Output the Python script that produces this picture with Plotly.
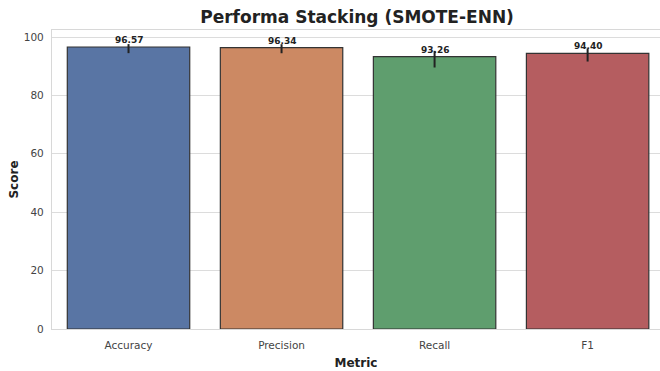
import plotly.graph_objects as go

metrics = ["Accuracy", "Precision", "Recall", "F1"]
scores = [96.57, 96.34, 93.26, 94.40]
err_up = [1.0, 1.2, 2.0, 1.7]
err_down = [2.1, 1.9, 3.7, 2.8]
bar_colors = ["#5975a4", "#cc8963", "#5f9e6e", "#b55d60"]
y_ticks = [0, 20, 40, 60, 80, 100]

fig = go.Figure()
fig.add_trace(go.Bar(
    x=list(range(len(metrics))),
    y=scores,
    width=0.8,
    marker=dict(color=bar_colors, line=dict(color="#333333", width=1.2)),
    error_y=dict(type="data", symmetric=False, array=err_up, arrayminus=err_down,
                 color="#222222", thickness=2, width=0),
    showlegend=False,
))
for i, v in enumerate(scores):
    fig.add_annotation(x=i, y=v, text=f"<b>{v:.2f}</b>", showarrow=False,
                       yshift=7, font=dict(family="DejaVu Sans", size=9, color="#222222"))

fig.update_layout(
    width=660, height=371,
    margin=dict(l=52, r=0, t=30, b=42),
    paper_bgcolor="white", plot_bgcolor="white",
    title=dict(text="<b>Performa Stacking (SMOTE-ENN)</b>", x=0.541, xanchor="center",
               y=0.953, yanchor="middle",
               font=dict(family="DejaVu Sans", size=17, color="#222222")),
    font=dict(family="DejaVu Sans", color="#444444"),
    bargap=0.2,
)
fig.update_xaxes(
    range=[-0.5, 3.473],
    tickvals=list(range(len(metrics))), ticktext=metrics,
    tickfont=dict(size=10.5, color="#444444"),
    ticklabelstandoff=6,
    title=dict(text="<b>Metric</b>", font=dict(size=12, color="#222222"), standoff=8),
    showgrid=False, showline=True, linecolor="#d8d8d8", linewidth=1.2, mirror=True,
    ticks="", zeroline=False,
)
fig.update_yaxes(
    range=[0, 102.4],
    tickvals=y_ticks,
    tickfont=dict(size=10.5, color="#444444"),
    ticklabelstandoff=5,
    title=dict(text="<b>Score</b>", font=dict(size=12, color="#222222"), standoff=2),
    showgrid=True, gridcolor="#dcdcdc", gridwidth=1,
    showline=True, linecolor="#d8d8d8", linewidth=1.2, mirror=True,
    ticks="", zeroline=False,
)

fig.write_html("out.html")
